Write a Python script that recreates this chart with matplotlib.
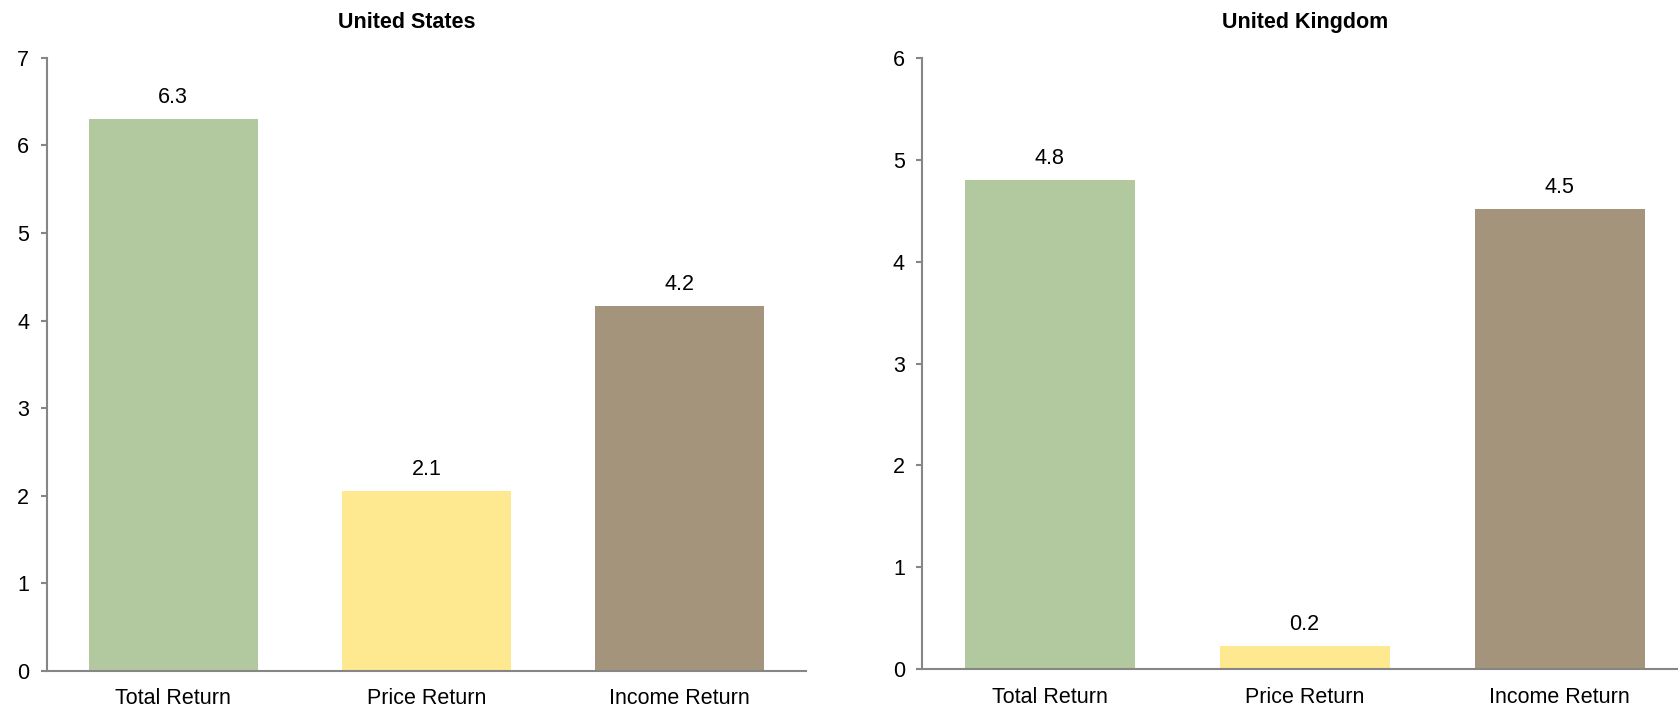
import matplotlib
matplotlib.use("Agg")
import matplotlib.pyplot as plt

plt.rcParams['font.family'] = ['Liberation Sans', 'DejaVu Sans']

categories = ["Total Return", "Price Return", "Income Return"]
us_values = [6.3, 2.06, 4.17]
uk_values = [4.8, 0.23, 4.52]
bar_colors = ["#B2C89F", "#FEE991", "#A4947B"]

titles = ["United States", "United Kingdom"]
y_limits = [7, 6]

W, H = 1678, 708
fig = plt.figure(figsize=(W / 100, H / 100), dpi=100)

# axes boxes in pixels: left, right, top, bottom
boxes = [(46.7, 806.0, 57.7, 671.0), (922.3, 1687.0, 57.7, 669.3)]
title_x = [407.0, 1304.7]

spine_color = "#868686"
fs = 15.5

for box, values, title, ymax, tx in zip(boxes, [us_values, uk_values], titles, y_limits, title_x):
    l, r, t, b = box
    ax = fig.add_axes([l / W, (H - b) / H, (r - l) / W, (b - t) / H])
    x = range(len(categories))
    bars = ax.bar(x, values, width=0.667, color=bar_colors, linewidth=0, zorder=2)
    ax.set_xlim(-0.5, 2.5)
    ax.set_ylim(0, ymax)
    ax.set_yticks(range(0, ymax + 1))
    ax.set_xticks(list(x))
    ax.set_xticklabels(categories)
    for side in ("top", "right"):
        ax.spines[side].set_visible(False)
    for side in ("left", "bottom"):
        ax.spines[side].set_color(spine_color)
        ax.spines[side].set_linewidth(1.5)
    ax.tick_params(axis="y", direction="out", length=4, width=1.5, color=spine_color,
                   labelsize=fs, pad=8.5, labelcolor="black")
    ax.tick_params(axis="x", length=0, labelsize=fs, pad=12.5, labelcolor="black")
    for rect, v in zip(bars, values):
        ax.annotate(f"{v:.1f}", xy=(rect.get_x() + rect.get_width() / 2, v),
                    xytext=(0, 11.3), textcoords="offset points",
                    ha="center", va="baseline", fontsize=fs, color="black")
    fig.text(tx / W, (H - 28) / H, title, ha="center", va="baseline",
             fontsize=fs, fontweight="bold", color="black")

fig.savefig("out.png", dpi=100)
